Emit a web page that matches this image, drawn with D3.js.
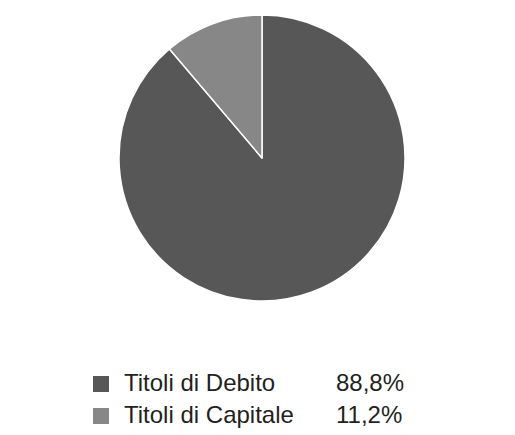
<!DOCTYPE html>
<html>
<head>
<meta charset="utf-8">
<script src="https://cdn.jsdelivr.net/npm/d3@7"></script>
<style>
  html, body { margin: 0; padding: 0; background: #fff; }
  svg { display: block; }
</style>
</head>
<body>
<div id="chart"></div>
<script>
// chart data
var categories = ['Titoli di Debito', 'Titoli di Capitale'];
var values = [88.8, 11.2];
var valueLabels = ['88,8%', '11,2%'];
var colors = ['#575758', '#878787'];

var width = 515, height = 435;
var cx = 262, cy = 158, radius = 143;

var svg = d3.select('#chart').append('svg')
  .attr('width', width)
  .attr('height', height);

var data = categories.map(function(c, i) {
  return { name: c, value: values[i], label: valueLabels[i], color: colors[i] };
});

var pie = d3.pie()
  .sort(null)
  .value(function(d) { return d.value; });

var arc = d3.arc()
  .innerRadius(0)
  .outerRadius(radius);

var g = svg.append('g')
  .attr('transform', 'translate(' + cx + ',' + cy + ')');

g.selectAll('path')
  .data(pie(data))
  .enter().append('path')
  .attr('d', arc)
  .attr('fill', function(d) { return d.data.color; })
  .attr('stroke', '#fff')
  .attr('stroke-width', 1.5)
  .attr('stroke-linejoin', 'round');

// legend
var legendY = d3.scaleBand()
  .domain(categories)
  .range([376, 440])
  .paddingInner(0);

var legend = svg.append('g')
  .style('font-family', '"Liberation Sans", Arial, sans-serif')
  .style('font-size', '24px')
  .attr('fill', '#231f20');

var rows = legend.selectAll('g')
  .data(data)
  .enter().append('g')
  .attr('transform', function(d) { return 'translate(0,' + legendY(d.name) + ')'; });

rows.append('rect')
  .attr('x', 93)
  .attr('y', 0)
  .attr('width', 16)
  .attr('height', 16)
  .attr('fill', function(d) { return d.color; });

rows.append('text')
  .attr('x', 124)
  .attr('y', 15)
  .text(function(d) { return d.name; });

rows.append('text')
  .attr('x', 336)
  .attr('y', 15)
  .text(function(d) { return d.label; });
</script>
</body>
</html>
